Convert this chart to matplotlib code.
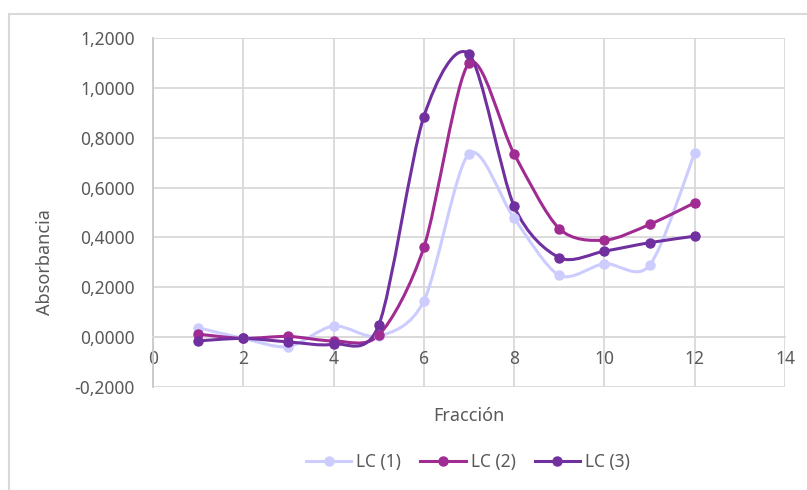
import numpy as np
import matplotlib.pyplot as plt
from matplotlib.path import Path
from matplotlib.patches import PathPatch
from matplotlib.lines import Line2D
from matplotlib.ticker import FuncFormatter, MultipleLocator

plt.rcParams['font.family'] = ['Noto Sans', 'DejaVu Sans']

fraccion = [1, 2, 3, 4, 5, 6, 7, 8, 9, 10, 11, 12]
lc1 = [0.038, -0.005, -0.038, 0.045, 0.004, 0.145, 0.736, 0.476, 0.248, 0.295, 0.288, 0.739]
lc2 = [0.012, -0.005, 0.003, -0.015, 0.008, 0.360, 1.099, 0.735, 0.435, 0.389, 0.452, 0.539]
lc3 = [-0.015, -0.005, -0.019, -0.028, 0.048, 0.885, 1.135, 0.525, 0.319, 0.345, 0.379, 0.405]

series = [('LC (1)', lc1, '#ccccff'),
          ('LC (2)', lc2, '#a02b93'),
          ('LC (3)', lc3, '#7030a0')]

grid_c = '#d9d9d9'
text_c = '#595959'
TENSION = 0.145


def smooth_path(x, y):
    # bezier through every point, like the "smoothed line" option in a spreadsheet
    pts = np.column_stack([x, y]).astype(float)
    n = len(pts)
    verts = [pts[0]]
    codes = [Path.MOVETO]
    for i in range(n - 1):
        p0 = pts[i - 1] if i > 0 else pts[i]
        p1 = pts[i]
        p2 = pts[i + 1]
        p3 = pts[i + 2] if i + 2 < n else pts[i + 1]
        verts += [p1 + (p2 - p0) * TENSION, p2 - (p3 - p1) * TENSION, p2]
        codes += [Path.CURVE4] * 3
    return Path(verts, codes)


fig = plt.figure(figsize=(8.07, 4.90), dpi=100)
ax = fig.add_axes([153 / 807, 1 - 387 / 490, 632 / 807, 349 / 490])

ax.set_xlim(0, 14)
ax.set_ylim(-0.2, 1.2)
ax.xaxis.set_major_locator(MultipleLocator(2))
ax.yaxis.set_major_locator(MultipleLocator(0.2))
ax.yaxis.set_major_formatter(FuncFormatter(lambda v, p: f'{v:.4f}'.replace('.', ',')))
ax.grid(True, color=grid_c, lw=1.3)
ax.set_axisbelow(True)

for s in ['top', 'right']:
    ax.spines[s].set_visible(False)
ax.spines['bottom'].set_position(('data', 0))
ax.spines['bottom'].set_color(grid_c)
ax.spines['bottom'].set_linewidth(1.3)
ax.spines['left'].set_color('#c8c8c8')
ax.spines['left'].set_linewidth(1.3)
ax.tick_params(length=0, labelsize=12.5, labelcolor=text_c)
ax.tick_params(axis='x', pad=9)
ax.tick_params(axis='y', pad=13)

handles = []
for name, vals, col in series:
    ax.add_patch(PathPatch(smooth_path(fraccion, vals), fill=False,
                           edgecolor=col, lw=2.2, capstyle='round', zorder=3))
    ax.plot(fraccion, vals, 'o', color=col, ms=6.5, zorder=4)
    handles.append(Line2D([], [], color=col, lw=2.2, marker='o', ms=6.5, label=name))

fig.text(45 / 807, 1 - 262 / 490, 'Absorbancia', rotation=90, ha='center', va='center',
         fontsize=13, color=text_c)
fig.text(469 / 807, 1 - 416 / 490, 'Fracción', ha='center', va='center',
         fontsize=13, color=text_c)

fig.legend(handles=handles, loc='center', bbox_to_anchor=(468 / 807, 1 - 462 / 490),
           ncol=3, frameon=False, fontsize=12.5, labelcolor=text_c,
           handlelength=2.6, handletextpad=0.3, columnspacing=1.1)

# chart frame, partly cut off in the screenshot
fig.add_artist(Line2D([9 / 807, 1], [1 - 14 / 490, 1 - 14 / 490], color=grid_c, lw=1.5))
fig.add_artist(Line2D([9 / 807, 9 / 807], [0, 1 - 14 / 490], color=grid_c, lw=1.5))

fig.savefig('out.png', dpi=100)
